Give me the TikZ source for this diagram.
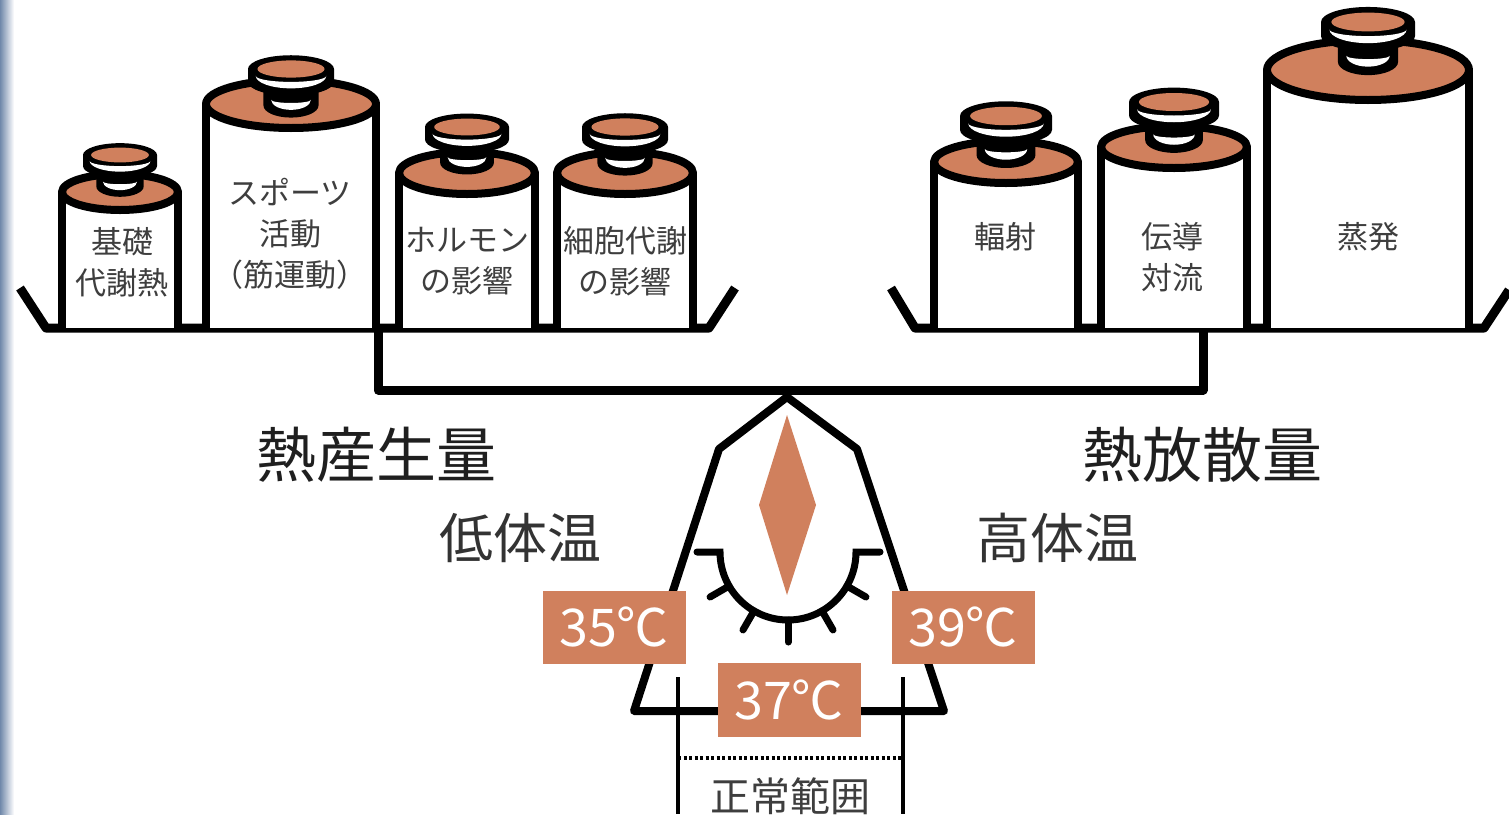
\documentclass[tikz,border=0pt]{standalone}
\usepackage{fontspec}
\setmainfont{Noto Sans CJK JP}
\usepackage{xcolor}
\usetikzlibrary{positioning}
\definecolor{copper}{RGB}{208,128,93}
\definecolor{labelgray}{RGB}{62,62,62}
\definecolor{edgeblue}{RGB}{112,136,170}
\tikzstyle{outline}=[draw=black, line width=8pt, line join=round]
\tikzstyle{pan}=[draw=black, line width=9pt, line join=round]
\tikzstyle{dial}=[draw=black, line width=7pt, line cap=round]
\tikzstyle{tag}=[fill=copper, text=white, inner sep=0pt, minimum width=143pt,
		minimum height=73pt, font=\fontsize{52}{52}\selectfont]
\tikzstyle{small}=[text=labelgray, font=\fontsize{31}{41}\selectfont, align=center, inner sep=0pt]
\tikzstyle{big}=[text=black!88, font=\fontsize{60}{60}\selectfont, inner sep=0pt]
\tikzstyle{mid}=[text=black!80, font=\fontsize{54}{54}\selectfont, inner sep=0pt]
\tikzstyle{rangeline}=[draw=black, line width=3.5pt]
\tikzstyle{dotline}=[draw=black, line width=3.5pt, dash pattern=on 3pt off 2.5pt]

% canister: {cx}{lid y}{rx}{ry}{knob radius}{knob y}
\newcommand{\canister}[6]{%
	\fill[white] (#1-#3,#2) rectangle (#1+#3,328);
	\draw[outline] (#1-#3,328) -- (#1-#3,#2) (#1+#3,#2) -- (#1+#3,328);
	\draw[outline, fill=copper] (#1,#2) ellipse ({#3} and {#4});
	\begin{scope}[shift={(#1,#6)}, scale=#5]
		% neck
		\fill[black] (-0.64,0.3) -- (-0.64,0.85) arc (180:0:0.64 and 0.28) -- (0.64,0.3) -- cycle;
		\fill[white] (-0.46,0.72) arc (180:0:0.46 and 0.23) arc (0:180:0.46 and 0.07) -- cycle;
		% knob
		\fill[black] (-1,0) -- (-1,0.3) arc (180:0:1 and 0.32) -- (1,0) arc (0:-180:1 and 0.32) -- cycle;
		\fill[white] (-0.82,0.16) arc (180:0:0.82 and 0.29) arc (0:180:0.82 and 0.14) -- cycle;
		\fill[copper] (0,0) ellipse (0.78 and 0.2);
	\end{scope}}

\begin{document}
\begin{tikzpicture}[x=1pt, y=-1pt]
	\useasboundingbox (0,0) rectangle (1509,814);
	\fill[white] (0,0) rectangle (1509,814);
	\shade[left color=edgeblue, right color=white] (0,0) rectangle (14,814);

	% pans and beam
	\draw[pan] (20,288) -- (46,328) -- (709,328) -- (735,288);
	\draw[pan] (891,288) -- (915,328) -- (1484,328) -- (1509,290);
	\draw[pan] (378,328) -- (378,390) -- (1203,390) -- (1203,328);

	% heat production
	\canister{120}{192}{58}{18}{37}{155}
	\canister{291}{104}{85}{24}{43}{69}
	\canister{467}{173}{68}{21}{42}{127}
	\canister{625}{173}{68}{21}{43}{127}
	% heat loss
	\canister{1006}{162}{72}{21}{46}{116}
	\canister{1174}{147}{73}{21}{45}{102}
	\canister{1368}{70}{101}{30}{47}{22}

	\node[small] (basal) at (122,262) {基礎\\代謝熱};
	\node[small] (sport) at (290,234) {スポーツ\\活動\\（筋運動）};
	\node[small] (hormone) at (467,261) {ホルモン\\の影響};
	\node[small] (cell) at (625,261) {細胞代謝\\の影響};
	\node[small] (radiate) at (1005,237) {輻射};
	\node[small] (conduct) at (1172,257) {伝導\\対流};
	\node[small] (evap) at (1368,237) {蒸発};

	\node[big] (produce) at (376,455) {熱産生量};
	\node[big] (release) at (1202,455) {熱放散量};
	\node[mid] (low) at (520,538) {低体温};
	\node[mid] (high) at (1057,538) {高体温};

	% stand with dial
	\draw[outline] (787,397) -- (719,449) -- (634,711) -- (944,711) -- (857,449) -- cycle;
	\fill[copper] (787,415) -- (816,505) -- (787,595) -- (759,505) -- cycle;
	\draw[dial] (697,552) -- (720,552) arc (180:0:68) -- (880,552);
	\foreach \a in {30,60,...,150}
		\draw[dial] (788,552) ++(\a:68) -- ++(\a:22);

	% normal range
	\coordinate (lowtop) at (678,677);
	\coordinate (lowend) at (678,814);
	\coordinate (hightop) at (903,677);
	\coordinate (highend) at (903,814);
	\draw[rangeline] (lowtop) -- (lowend);
	\draw[rangeline] (hightop) -- (highend);
	\coordinate (dotl) at (678,758);
	\coordinate (dotr) at (903,758);
	\draw[dotline] (dotl) -- (dotr);
	\node[text=labelgray, font=\fontsize{40}{40}\selectfont, inner sep=0pt] (normal) at (790,796) {正常範囲};

	\node[tag] (t35) at (614,627) {35℃};
	\node[tag] (t39) at (963,627) {39℃};
	\node[tag, minimum height=74pt] (t37) at (789,700) {37℃};
\end{tikzpicture}
\end{document}
